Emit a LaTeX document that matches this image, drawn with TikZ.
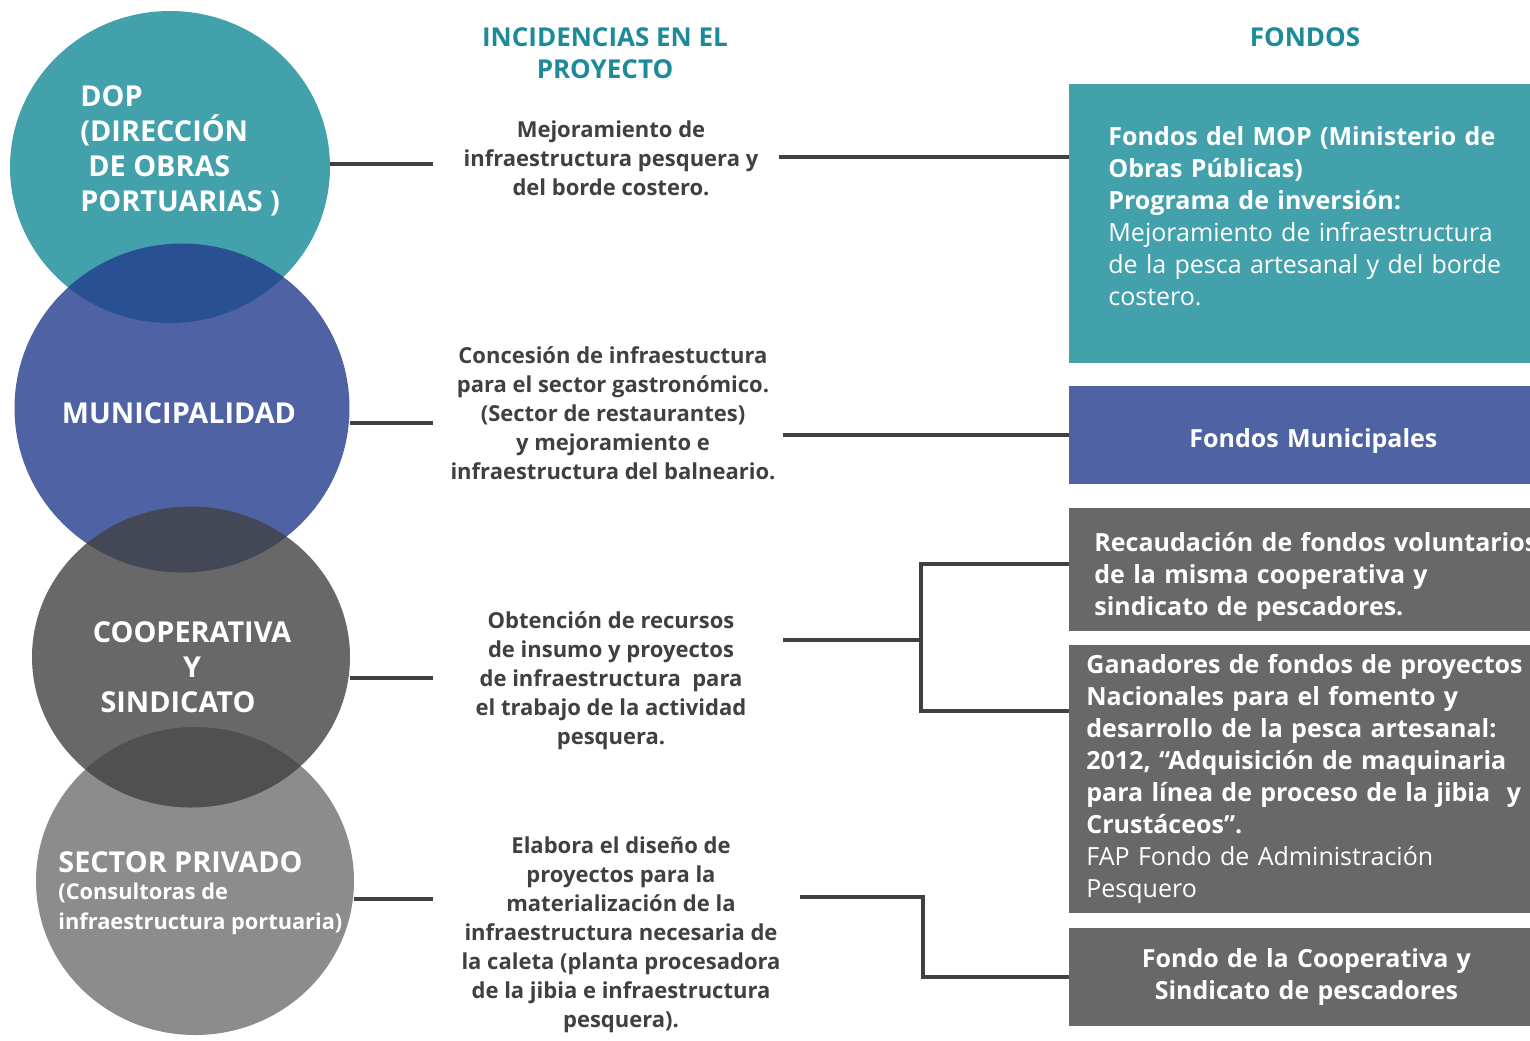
\documentclass[tikz,border=0pt]{standalone}
\usepackage{fontspec}
\setmainfont{Open Sans}
\usetikzlibrary{positioning,shapes.geometric}
\definecolor{ink}{RGB}{64,64,64}
\definecolor{headTeal}{RGB}{28,138,153}
\definecolor{boxTeal}{RGB}{67,161,171}
\definecolor{boxBlue}{RGB}{79,99,164}
\definecolor{boxGray}{RGB}{104,104,104}
\definecolor{dopC}{RGB}{20,138,150}
\definecolor{munC}{RGB}{35,60,141}
\definecolor{coopC}{RGB}{66,66,66}
\definecolor{privC}{RGB}{111,111,111}
\newcommand{\subfont}{\fontsize{10.9}{14}\selectfont}

\begin{document}
\begin{tikzpicture}[
    x=0.5pt, y=-0.5pt,
    blob/.style={ellipse, draw=none, inner sep=0pt, fill opacity=0.8},
    ctitle/.style={text=white, font=\bfseries\fontsize{14.4}{17.6}\selectfont, inner sep=0pt},
    head/.style={text=headTeal, align=center, font=\bfseries\fontsize{13}{16}\selectfont},
    inc/.style={text=ink, align=center, inner sep=0pt, font=\bfseries\fontsize{11}{14.5}\selectfont},
    fund/.style={rectangle, anchor=north west, text=white, inner ysep=0pt,
                 font=\fontsize{12.5}{16}\selectfont},
    link/.style={draw=ink, line width=2pt}
]
\useasboundingbox (0,0) rectangle (1530,1040);

% Actors (circles)
\node[blob, fill=dopC, minimum width=160pt, minimum height=156pt] (dop) at (170,167) {};
\node[blob, fill=munC, minimum width=167.5pt, minimum height=164.5pt] (mun) at (182,408) {};
\node[blob, fill=privC, minimum width=159pt, minimum height=154pt] (priv) at (195,881) {};
\node[blob, fill=coopC, minimum width=159pt, minimum height=150.5pt] (coop) at (191,657) {};

\node[ctitle, anchor=west, align=left] (dopT) at (80,151)
    {DOP\\(DIRECCIÓN\\\hspace*{4pt}DE OBRAS\\PORTUARIAS )};
\node[ctitle] (munT) at (179,413) {MUNICIPALIDAD};
\node[ctitle, align=center] (coopT) at (192,667) {COOPERATIVA\\Y\\SINDICATO\kern14pt};
\node[ctitle, anchor=west, align=left] (privT) at (58,893)
    {SECTOR PRIVADO\\[-4pt]\subfont(Consultoras de\\[-3pt]\subfont infraestructura portuaria)};

% Column headers
\node[head] (hInc) at (605,53) {INCIDENCIAS EN EL\\PROYECTO};
\node[head] (hFon) at (1305,37) {FONDOS};

% Incidences
\node[inc] (inc1) at (611,158) {Mejoramiento de\\infraestructura pesquera y\\del borde costero.};
\node[inc] (inc2) at (613,413) {Concesión de infraestuctura\\para el sector gastronómico.\\(Sector de restaurantes)\\y mejoramiento e\\infraestructura del balneario.};
\node[inc] (inc3) at (611,681) {Obtención de recursos\\de insumo y proyectos\\de infraestructura\ \ para\\el trabajo de la actividad\\pesquera.};
\node[inc] (inc4) at (621,935) {Elabora el diseño de\\proyectos para la\\materialización de la\\infraestructura necesaria de\\la caleta (planta procesadora\\de la jibia e infraestructura\\pesquera).};

% Funds
\node[fund, fill=boxTeal, minimum height=139.5pt, inner xsep=19.5pt, text width=226.5pt, align=left] (mop) at (1069,84)
    {\textbf{Fondos del MOP (Ministerio de}\\\textbf{Obras Públicas)}\\\textbf{Programa de inversión:}\\Mejoramiento de infraestructura\\de la pesca artesanal y del borde\\costero.\\[-8pt]\mbox{}};
\node[fund, fill=boxBlue, minimum height=49pt, inner xsep=5pt, text width=234pt, align=center] (fmun) at (1069,386)
    {\rule{0pt}{15pt}\textbf{Fondos Municipales}};
\node[fund, fill=boxGray, minimum height=61.5pt, inner xsep=12.5pt, text width=240.5pt, align=left] (rec) at (1069,508)
    {\bfseries\rule{0pt}{17pt}Recaudación de fondos voluntarios\\de la misma cooperativa y\\sindicato de pescadores.};
\node[fund, fill=boxGray, minimum height=134pt, inner xsep=8.5pt, text width=248.5pt, align=left] (gan) at (1069,645)
    {\textbf{Ganadores de fondos de proyectos}\\\textbf{Nacionales para el fomento y}\\\textbf{desarrollo de la pesca artesanal:}\\\textbf{2012, “Adquisición de maquinaria}\\\textbf{para línea de proceso de la jibia\ \ y}\\\textbf{Crustáceos”.}\\FAP Fondo de Administración\\Pesquero};
\node[fund, fill=boxGray, minimum height=49pt, inner xsep=5pt, text width=227pt, align=center] (fco) at (1069,928)
    {\bfseries Fondo de la Cooperativa y\\Sindicato de pescadores};

% Connector ends
\coordinate (a1) at (433,164);
\coordinate (b1) at (779,157);
\coordinate (a2) at (433,423);
\coordinate (b2) at (783,435);
\coordinate (a3) at (433,678);
\coordinate (b3) at (783,640);
\coordinate (j3) at (921,640);
\coordinate (a4) at (433,899);
\coordinate (b4) at (800,897);
\coordinate (j4) at (923,897);

% Connectors
\draw[link] (dop.east |- a1) -- (a1);
\draw[link] (b1) -- (mop.west |- b1);
\draw[link] (mun.east |- a2) -- (a2);
\draw[link] (b2) -- (fmun.west |- b2);
\draw[link] (coop.east |- a3) -- (a3);
\draw[link] (b3) -- (j3);
\draw[link] ([yshift=3pt]rec.west) -| (j3) |- ([yshift=-33pt]gan.north west);
\draw[link] (priv.east |- a4) -- (a4);
\draw[link] (b4) -- (j4) |- (fco.west);
\end{tikzpicture}
\end{document}
